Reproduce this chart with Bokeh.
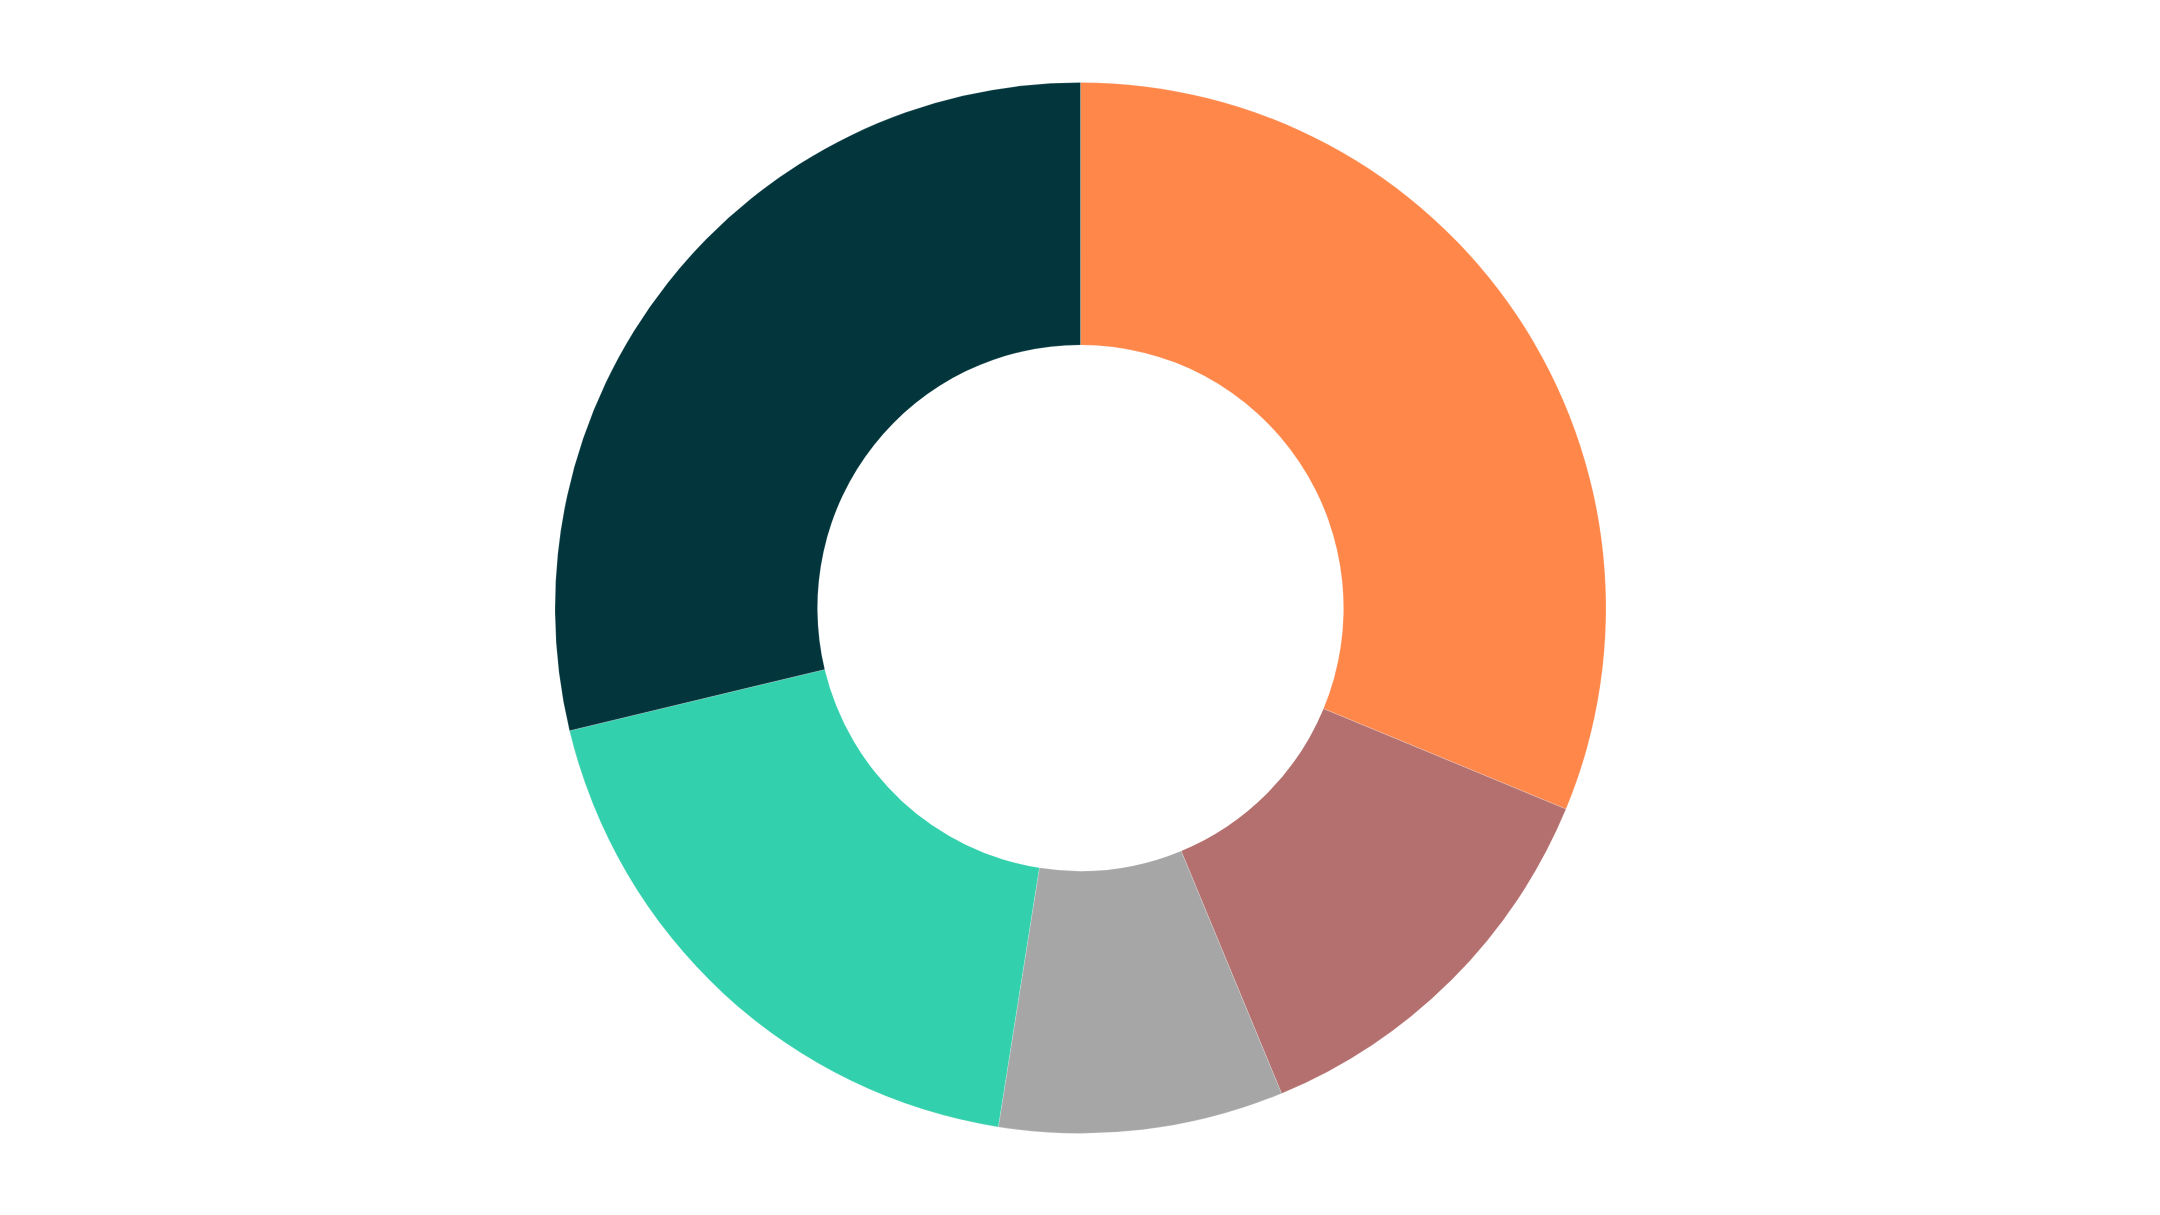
import math
from bokeh.plotting import figure
from bokeh.models import Range1d, ColumnDataSource
from bokeh.embed import file_html
from bokeh.resources import INLINE

categories = ["A", "B", "C", "D", "E"]
values = [31.25, 12.5, 8.75, 18.75, 28.75]
colors = ["#FF874A", "#B4706E", "#A6A6A6", "#32D0AC", "#02353C"]

W, H = 2144, 1199
total = sum(values)
starts, ends = [], []
cum = 0.0
for v in values:
    a0 = math.pi / 2 - 2 * math.pi * cum / total
    cum += v
    a1 = math.pi / 2 - 2 * math.pi * cum / total
    starts.append(a0)
    ends.append(a1)

src = ColumnDataSource(dict(cat=categories, val=values, color=colors,
                            start=starts, end=ends))

p = figure(width=W, height=H, output_backend="svg", toolbar_location=None,
           x_range=Range1d(0, W), y_range=Range1d(0, H), min_border=0)
p.axis.visible = False
p.grid.visible = False
p.outline_line_color = None
p.background_fill_color = "white"
p.border_fill_color = "white"

cx, cy = 1080, H - 607.5
p.annular_wedge(x=cx, y=cy, inner_radius=263, outer_radius=525.5,
                start_angle="start", end_angle="end", direction="clock",
                fill_color="color", line_color="white", line_width=0.3,
                line_alpha=0.6, source=src)

open("out.html", "w").write(file_html(p, INLINE))
